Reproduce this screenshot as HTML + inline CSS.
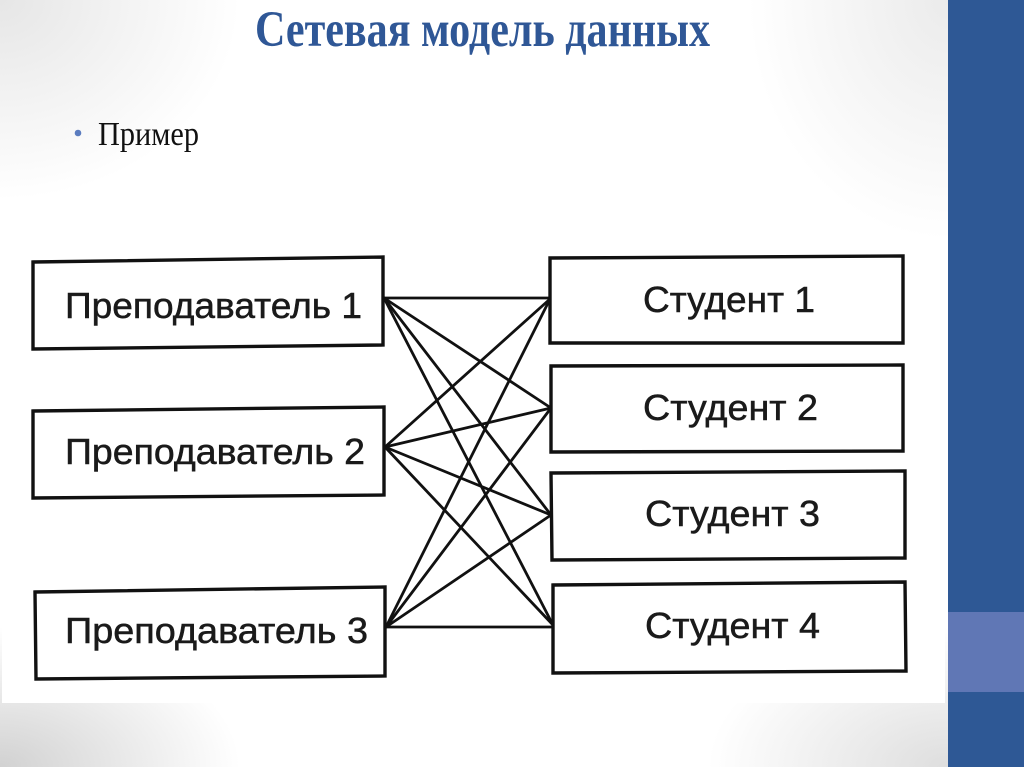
<!DOCTYPE html>
<html>
<head>
<meta charset="utf-8">
<style>
html,body{margin:0;padding:0;}
body{width:1024px;height:767px;overflow:hidden;position:relative;background:#ffffff;}
.bg{position:absolute;left:0;top:0;width:948px;height:767px;
background:
radial-gradient(ellipse 240px 200px at 0px 0px, rgba(205,205,205,0.5), rgba(255,255,255,0) 100%),
radial-gradient(ellipse 200px 240px at 948px 0px, rgba(205,205,205,0.4), rgba(255,255,255,0) 100%),
radial-gradient(ellipse 240px 140px at 0px 767px, rgba(190,190,190,0.7), rgba(255,255,255,0) 100%),
radial-gradient(ellipse 240px 140px at 948px 767px, rgba(200,200,200,0.6), rgba(255,255,255,0) 100%),
#ffffff;}
.pic{position:absolute;left:2px;top:236px;width:943px;height:467px;background:#fff;}
.bar{position:absolute;left:948px;top:0;width:76px;height:767px;background:#2e5895;}
.bar2{position:absolute;left:948px;top:612px;width:76px;height:80px;background:#6077b5;}
svg{position:absolute;left:0;top:0;}
</style>
</head>
<body>
<div class="bg"></div>
<div class="pic"></div>
<div class="bar"></div>
<div class="bar2"></div>
<svg width="1024" height="767" viewBox="0 0 1024 767" xmlns="http://www.w3.org/2000/svg">
  <text x="255" y="46" font-family="Liberation Serif, serif" font-weight="bold" font-size="51" fill="#2f5796" textLength="455" lengthAdjust="spacingAndGlyphs">Сетевая модель данных</text>
  <circle cx="78" cy="133" r="3.3" fill="#5b7cbf"/>
  <text x="98" y="145" font-family="Liberation Serif, serif" font-size="34" fill="#111" textLength="101" lengthAdjust="spacingAndGlyphs">Пример</text>

  <g fill="none" stroke="#111" stroke-width="2.8" stroke-linecap="round">
    <line x1="384" y1="298" x2="550" y2="298"/>
    <line x1="384" y1="298" x2="551" y2="408"/>
    <line x1="384" y1="298" x2="551" y2="515"/>
    <line x1="384" y1="298" x2="553" y2="625"/>
    <line x1="385" y1="447" x2="550" y2="299"/>
    <line x1="385" y1="447" x2="551" y2="408"/>
    <line x1="385" y1="447" x2="551" y2="515"/>
    <line x1="385" y1="447" x2="553" y2="625"/>
    <line x1="386" y1="627" x2="550" y2="299"/>
    <line x1="386" y1="627" x2="551" y2="408"/>
    <line x1="386" y1="627" x2="551" y2="515"/>
    <line x1="386" y1="627" x2="553" y2="627"/>
  </g>

  <g fill="#fff" stroke="#111" stroke-width="3.4" stroke-linejoin="miter">
    <polygon points="33,262 383,257 383,345 33,349"/>
    <polygon points="33,411 384,407 384,495 33,498"/>
    <polygon points="35,592 385,587 385,676 36,679"/>
    <polygon points="550,258 903,256 903,343 550,343"/>
    <polygon points="551,366 903,365 903,451 551,452"/>
    <polygon points="551,473 905,471 905,558 552,560"/>
    <polygon points="553,585 905,582 906,671 553,673"/>
  </g>

  <g font-family="Liberation Sans, Arial, sans-serif" font-size="36" fill="#1a1a1a" stroke="#1a1a1a" stroke-width="0.5">
    <text x="65" y="318" textLength="297" lengthAdjust="spacingAndGlyphs">Преподаватель 1</text>
    <text x="65" y="464" textLength="300" lengthAdjust="spacingAndGlyphs">Преподаватель 2</text>
    <text x="65" y="643" textLength="303" lengthAdjust="spacingAndGlyphs">Преподаватель 3</text>
    <text x="643" y="312" textLength="172" lengthAdjust="spacingAndGlyphs">Студент 1</text>
    <text x="643" y="420" textLength="175" lengthAdjust="spacingAndGlyphs">Студент 2</text>
    <text x="645" y="526" textLength="175" lengthAdjust="spacingAndGlyphs">Студент 3</text>
    <text x="645" y="638" textLength="175" lengthAdjust="spacingAndGlyphs">Студент 4</text>
  </g>
</svg>
</body>
</html>
